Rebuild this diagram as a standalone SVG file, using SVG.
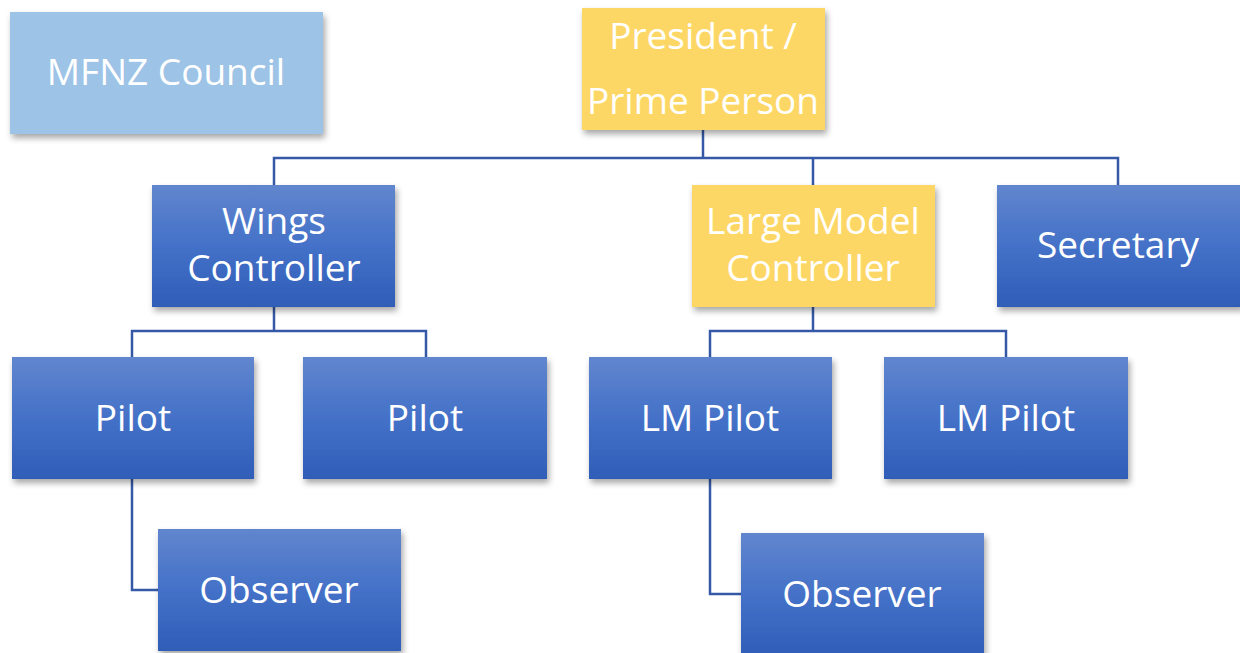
<svg xmlns="http://www.w3.org/2000/svg" width="1240" height="653" viewBox="0 0 1240 653">
<defs>
<linearGradient id="blue" x1="0" y1="0" x2="0" y2="1">
<stop offset="0" stop-color="#6186CE"/>
<stop offset="0.5" stop-color="#4471C8"/>
<stop offset="1" stop-color="#2F5DB7"/>
</linearGradient>
<filter id="sh" x="-10%" y="-10%" width="125%" height="130%">
<feDropShadow dx="2" dy="4" stdDeviation="3" flood-color="#000" flood-opacity="0.35"/>
</filter>
</defs>
<style>
.b{fill:url(#blue);filter:url(#sh)}
.y{fill:#FDD766;filter:url(#sh)}
.l{fill:#9DC3E6;filter:url(#sh)}
text{font-family:"Open Sans","Liberation Sans",sans-serif;font-size:37px;fill:#fff;text-anchor:middle}
.c{fill:none;stroke:#3559A6;stroke-width:2.5}
</style>
<rect width="1240" height="653" fill="#fff"/>
<g id="connectors">
<path class="c" d="M703 130V158M274 185V158H1118V185M813 158V185"/>
<path class="c" d="M274 307V331M132 357V331H426V357"/>
<path class="c" d="M813 307V331M710 357V331H1006V357"/>
<path class="c" d="M132 479V590H158"/>
<path class="c" d="M710 479V594H741"/>
</g>
<g id="council"><rect class="l" x="10" y="12" width="313" height="122"/><text x="166" y="85">MFNZ Council</text></g>
<g id="president"><rect class="y" x="582" y="8" width="243" height="122"/><text x="703" y="49">President /<tspan x="703" y="114">Prime Person</tspan></text></g>
<g id="wings"><rect class="b" x="152" y="185" width="243" height="122"/><text x="274" y="234">Wings<tspan x="274" y="281">Controller</tspan></text></g>
<g id="lmc"><rect class="y" x="692" y="185" width="243" height="122"/><text x="813" y="234">Large Model<tspan x="813" y="281">Controller</tspan></text></g>
<g id="secretary"><rect class="b" x="997" y="185" width="245" height="122"/><text x="1118" y="258">Secretary</text></g>
<g id="pilot1"><rect class="b" x="12" y="357" width="242" height="122"/><text x="133" y="431">Pilot</text></g>
<g id="pilot2"><rect class="b" x="303" y="357" width="244" height="122"/><text x="425" y="431">Pilot</text></g>
<g id="lmpilot1"><rect class="b" x="589" y="357" width="243" height="122"/><text x="710" y="431">LM Pilot</text></g>
<g id="lmpilot2"><rect class="b" x="884" y="357" width="244" height="122"/><text x="1006" y="431">LM Pilot</text></g>
<g id="observer1"><rect class="b" x="158" y="529" width="243" height="122"/><text x="279" y="603">Observer</text></g>
<g id="observer2"><rect class="b" x="741" y="533" width="243" height="124"/><text x="862" y="607">Observer</text></g>
</svg>
